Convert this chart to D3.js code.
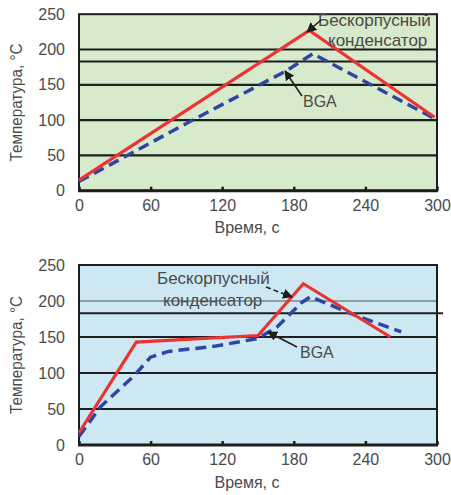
<!DOCTYPE html>
<html>
<head>
<meta charset="utf-8">
<script src="https://cdn.jsdelivr.net/npm/d3@7"></script>
<style>
  body { margin: 0; background: #fff; }
  svg { display: block; font-family: "Liberation Sans", Arial, sans-serif; }
</style>
</head>
<body>
<svg id="chart" width="451" height="495"></svg>
<script>
// --- DATA ---
const xTicks = [0, 60, 120, 180, 240, 300];
const yTicks = [0, 50, 100, 150, 200, 250];
const gridLevels = [50, 100, 150, 200];
const meltLevel = 183;

// верхний график: линейный профиль
const topRed  = [[0, 15], [193, 227], [298, 104]];
const topBlue = [[0, 13], [93, 98], [174, 170], [196, 194], [298, 102]];

// нижний график: профиль с площадкой
const botRed  = [[0, 17], [48, 143], [150, 152], [188, 224], [261, 150]];
const botBlue = [[0, 12], [18, 53], [46, 96], [60, 122], [75, 130], [113, 137],
                 [150, 148], [166, 164], [186, 197], [194, 206], [227, 183], [270, 157]];

const labelChip = ["Бескорпусный", "конденсатор"];
const labelBga  = "BGA";
const xTitle = "Время, с";
const yTitle = "Температура, °С";

const RED = "#ec3232", BLUE = "#2f45a6", INK = "#1e1e1e", TXT = "#4a4a4a";

const svg = d3.select("#chart");

svg.append("defs").append("marker")
  .attr("id", "head").attr("viewBox", "0 0 10 10")
  .attr("refX", 9).attr("refY", 5)
  .attr("markerWidth", 10).attr("markerHeight", 10)
  .attr("markerUnits", "userSpaceOnUse")
  .attr("orient", "auto")
  .append("path").attr("d", "M0,0 L10,5 L0,10 Z").attr("fill", INK);

function drawPanel(p) {
  const x = d3.scaleLinear().domain([0, 300]).range([79, 437]);
  const y = d3.scaleLinear().domain([0, 250]).range([p.y0, p.y1]);
  const g = svg.append("g");

  g.append("rect")
    .attr("x", x(0)).attr("y", y(250))
    .attr("width", x(300) - x(0)).attr("height", y(0) - y(250))
    .attr("fill", p.bg);

  gridLevels.forEach(v => {
    const thin = p.thin200 && v === 200;
    g.append("line")
      .attr("x1", x(0)).attr("x2", x(300))
      .attr("y1", y(v)).attr("y2", y(v))
      .attr("stroke", thin ? "#555" : INK)
      .attr("stroke-width", thin ? 1.2 : 2.2);
  });
  g.append("line")
    .attr("x1", x(0)).attr("x2", p.meltEnd)
    .attr("y1", y(meltLevel)).attr("y2", y(meltLevel))
    .attr("stroke", INK).attr("stroke-width", 1.8);

  // оси
  const xa = g.append("g")
    .attr("transform", `translate(0,${y(0)})`)
    .call(d3.axisBottom(x).tickValues(xTicks)
      .tickSizeInner(-4).tickSizeOuter(0).tickPadding(9));
  xa.select(".domain").remove();
  xa.selectAll("line").attr("stroke", INK).attr("stroke-width", 2.5);
  xa.selectAll("text").attr("fill", TXT).style("font-size", "16px");

  const ya = g.append("g")
    .attr("transform", `translate(${x(0)},0)`)
    .call(d3.axisLeft(y).tickValues(yTicks).tickSize(0).tickPadding(14));
  ya.select(".domain").remove();
  ya.selectAll("text").attr("fill", TXT).style("font-size", "16px");

  g.append("rect")
    .attr("x", x(0)).attr("y", y(250))
    .attr("width", x(300) - x(0)).attr("height", y(0) - y(250))
    .attr("fill", "none").attr("stroke", INK).attr("stroke-width", 2);
  g.append("line")
    .attr("x1", x(0) - 1).attr("x2", x(300) + 1)
    .attr("y1", y(0)).attr("y2", y(0))
    .attr("stroke", INK).attr("stroke-width", 3);

  const line = d3.line().x(d => x(d[0])).y(d => y(d[1]));
  g.append("path").datum(p.blue)
    .attr("d", line).attr("fill", "none")
    .attr("stroke", BLUE).attr("stroke-width", 3.5)
    .attr("stroke-dasharray", "11,6");
  g.append("path").datum(p.red)
    .attr("d", line).attr("fill", "none")
    .attr("stroke", RED).attr("stroke-width", 3.2)
    .attr("stroke-linejoin", "miter");

  // подписи
  g.append("text").attr("x", p.chipX[0]).attr("y", p.chipY[0])
    .attr("fill", TXT).style("font-size", "17px").text(labelChip[0]);
  g.append("text").attr("x", p.chipX[1]).attr("y", p.chipY[1])
    .attr("fill", TXT).style("font-size", "17px").text(labelChip[1]);
  g.append("text").attr("x", p.bgaX).attr("y", p.bgaY)
    .attr("fill", TXT).style("font-size", "16px").text(labelBga);

  p.arrows.forEach(a => {
    g.append("line")
      .attr("x1", a[0]).attr("y1", a[1]).attr("x2", a[2]).attr("y2", a[3])
      .attr("stroke", INK).attr("stroke-width", 1.6)
      .attr("stroke-dasharray", a[4] ? "5,3" : null)
      .attr("marker-end", "url(#head)");
  });

  g.append("text")
    .attr("x", 247).attr("y", p.xTitleY)
    .attr("text-anchor", "middle")
    .attr("fill", TXT).style("font-size", "16px").text(xTitle);

  g.append("text")
    .attr("transform", `translate(22,${(y(0) + y(250)) / 2}) rotate(-90)`)
    .attr("text-anchor", "middle")
    .attr("fill", TXT).style("font-size", "16px")
    .attr("textLength", 118).attr("lengthAdjust", "spacingAndGlyphs")
    .text(yTitle);
}

drawPanel({
  y0: 190.7, y1: 14.2, bg: "#d7eacb", thin200: false, meltEnd: 437,
  red: topRed, blue: topBlue,
  chipX: [318, 328], chipY: [26, 46], bgaX: 303, bgaY: 107,
  arrows: [[321, 20, 307, 32, false], [302, 96, 285, 71, false]],
  xTitleY: 233
});

drawPanel({
  y0: 445, y1: 265, bg: "#cde8f2", thin200: true, meltEnd: 443,
  red: botRed, blue: botBlue,
  chipX: [157, 163], chipY: [284, 306], bgaX: 300, bgaY: 358,
  arrows: [[266, 287, 292, 297, true], [297, 347, 268, 332, false]],
  xTitleY: 488
});
</script>
</body>
</html>
